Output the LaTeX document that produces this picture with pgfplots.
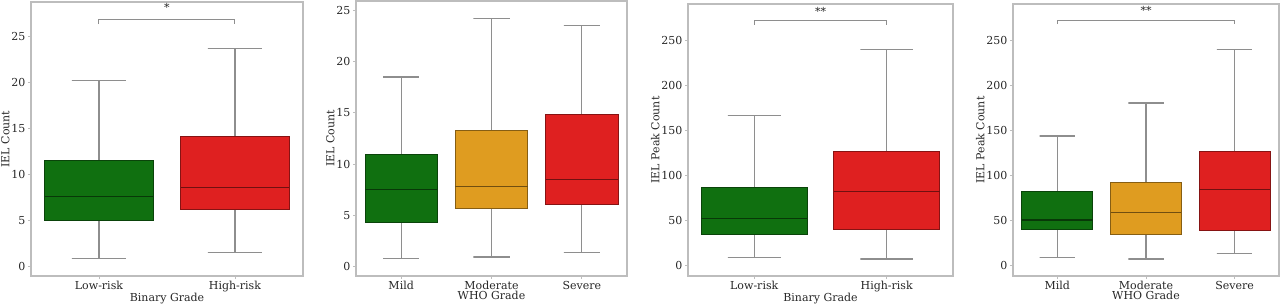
\documentclass[border=0pt]{standalone}
\usepackage{pgfplots}
\pgfplotsset{compat=1.18}
\usepackage{fontspec}
\setmainfont{DejaVu Serif}
\definecolor{cg}{HTML}{107010}
\definecolor{cr}{HTML}{DF2020}
\definecolor{co}{HTML}{DF9C20}
\definecolor{wg}{HTML}{8E8E8E}
\definecolor{axcol}{HTML}{BDBDBD}
\definecolor{txt}{HTML}{262626}
% box: xl, xr, q1, median, q3, colour
\newcommand{\bbox}[6]{%
\addplot[fill=#6, draw=#6!60!black, line width=0.9pt] coordinates {(#1,#3) (#2,#3) (#2,#5) (#1,#5)} -- cycle;
\addplot[draw=#6!50!black, line width=1.1pt] coordinates {(#1,#4) (#2,#4)};}
% whiskers: xc, cap left, cap right, lower whisker, q1, q3, upper whisker
\newcommand{\wsk}[7]{%
\addplot[draw=wg, line width=1.2pt] coordinates {(#1,#6) (#1,#7) (#2,#7) (#3,#7)};
\addplot[draw=wg, line width=1.2pt] coordinates {(#1,#5) (#1,#4) (#2,#4) (#3,#4)};}
\pgfplotsset{
  base/.style={
    scale only axis,
    anchor=south west,
    axis line style={axcol, line width=1.1pt},
    tick style={axcol, line width=0.8pt},
    tick align=outside,
    major tick length=3pt,
    xtick pos=bottom, ytick pos=left,
    ticklabel style={font=\fontsize{11}{13}\selectfont, text=txt},
    label style={font=\fontsize{11}{13}\selectfont, text=txt},
    /pgf/number format/assume math mode=true,
    xtick={0,1,2},
    ylabel shift=-5pt,
    xlabel style={yshift=6pt},
    yticklabel style={xshift=1pt},
    xticklabel style={yshift=1pt},
  },
  br/.style={draw=wg, line width=1pt},
}
\begin{document}
\begin{tikzpicture}
\path[use as bounding box] (0,0) rectangle (1280pt,303pt);
% Panel 1
\begin{axis}[base, at={(31pt,27pt)}, width=272pt, height=274pt,
  xmin=-0.5, xmax=1.5, ymin=-1, ymax=28.7,
  ytick={0,5,10,15,20,25},
  xticklabels={Low-risk,High-risk}, xlabel={Binary Grade}, ylabel={IEL Count}]
\wsk{0}{-0.2}{0.2}{0.9}{4.99}{11.5}{20.15}
\wsk{1}{0.8}{1.2}{1.54}{6.25}{14.1}{23.67}
\bbox{-0.4}{0.4}{4.99}{7.6}{11.5}{cg}
\bbox{0.6}{1.4}{6.25}{8.6}{14.1}{cr}
\addplot[br] coordinates {(0,26.3) (0,26.8) (1,26.8) (1,26.3)};
\node[font=\fontsize{11}{13}\selectfont, text=txt] at (axis cs:0.5,28.1) {*};
\end{axis}
% Panel 2
\begin{axis}[base, at={(356pt,27pt)}, width=271pt, height=275pt,
  xmin=-0.5, xmax=2.5, ymin=-0.9, ymax=25.9,
  ytick={0,5,10,15,20,25},
  xticklabels={Mild,Moderate,Severe}, xlabel={WHO Grade}, ylabel={IEL Count}]
\wsk{0}{-0.2}{0.2}{0.8}{4.35}{10.9}{18.5}
\wsk{1}{0.8}{1.2}{0.95}{5.65}{13.25}{24.2}
\wsk{2}{1.8}{2.2}{1.4}{6.1}{14.8}{23.5}
\bbox{-0.4}{0.4}{4.35}{7.5}{10.9}{cg}
\bbox{0.6}{1.4}{5.65}{7.8}{13.25}{co}
\bbox{1.6}{2.4}{6.1}{8.5}{14.8}{cr}
\end{axis}
% Panel 3
\begin{axis}[base, at={(688pt,27pt)}, width=265pt, height=272pt,
  xmin=-0.5, xmax=1.5, ymin=-11.4, ymax=290.8,
  ytick={0,50,100,150,200,250},
  xticklabels={Low-risk,High-risk}, xlabel={Binary Grade}, ylabel={IEL Peak Count}]
\wsk{0}{-0.2}{0.2}{8.9}{34.4}{87}{167}
\wsk{1}{0.8}{1.2}{7.4}{40}{127.4}{240.4}
\bbox{-0.4}{0.4}{34.4}{52.6}{87}{cg}
\bbox{0.6}{1.4}{40}{82.6}{127.4}{cr}
\addplot[br] coordinates {(0,268) (0,272.7) (1,272.7) (1,268)};
\node[font=\fontsize{11}{13}\selectfont, text=txt] at (axis cs:0.5,283) {**};
\end{axis}
% Panel 4
\begin{axis}[base, at={(1013pt,27pt)}, width=266pt, height=272pt,
  xmin=-0.5, xmax=2.5, ymin=-11.4, ymax=291,
  ytick={0,50,100,150,200,250},
  xticklabels={Mild,Moderate,Severe}, xlabel={WHO Grade}, ylabel={IEL Peak Count}]
\wsk{0}{-0.2}{0.2}{8.9}{39.8}{82.5}{144.2}
\wsk{1}{0.8}{1.2}{7.5}{34.6}{92.5}{181}
\wsk{2}{1.8}{2.2}{13.8}{39}{126.8}{240.8}
\bbox{-0.4}{0.4}{39.8}{50.9}{82.5}{cg}
\bbox{0.6}{1.4}{34.6}{59.5}{92.5}{co}
\bbox{1.6}{2.4}{39}{85.2}{126.8}{cr}
\addplot[br] coordinates {(0,268.5) (0,273.2) (2,273.2) (2,268.5)};
\node[font=\fontsize{11}{13}\selectfont, text=txt] at (axis cs:1,283.5) {**};
\end{axis}
\end{tikzpicture}
\end{document}
